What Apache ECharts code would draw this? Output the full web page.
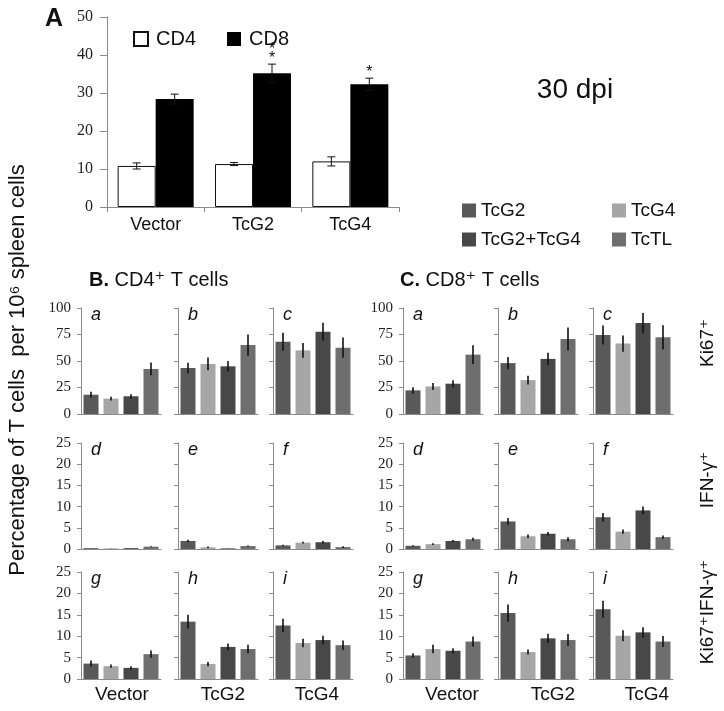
<!DOCTYPE html>
<html><head><meta charset="utf-8">
<script src="https://cdn.jsdelivr.net/npm/echarts@6/dist/echarts.min.js"></script>
<style>html,body{margin:0;padding:0;background:#fff}#c{width:724px;height:711px}</style>
</head><body><div id="c"></div>
<script>
// ---------- Panel A data ----------
const aCategories = ['Vector', 'TcG2', 'TcG4'];
const aCD4 = [10.8, 11.3, 12.0];
const aCD4Err = [0.8, 0.4, 1.2];
const aCD8 = [28.4, 35.2, 32.3];
const aCD8Err = [1.3, 2.4, 1.6];
const aStars = ['', '**', '*'];
const aTicks = [0, 10, 20, 30, 40, 50];

// ---------- Panels B / C data ----------
const groups = ['TcG2', 'TcG4', 'TcG2+TcG4', 'TcTL'];
const vaccines = ['Vector', 'TcG2', 'TcG4'];
const rowLabels = ['Ki67\u207A', 'IFN-\u03B3\u207A', 'Ki67\u207AIFN-\u03B3\u207A'];
const rowMax = [100, 25, 25];
const rowStep = [25, 5, 5];
const letters = [['a', 'b', 'c'], ['d', 'e', 'f'], ['g', 'h', 'i']];

// values[vaccine][group]
const cd4Ki67 = [[18.2, 14.5, 16.7, 42.5], [43.4, 47.2, 45.0, 65.0], [68.2, 60.0, 77.7, 62.6]];
const cd4Ki67Err = [[2.7, 1.7, 2.0, 6.0], [5.0, 6.0, 5.0, 10.0], [8.5, 7.0, 8.5, 9.5]];
const cd4Ifn = [[0.2, 0.15, 0.2, 0.55], [1.9, 0.4, 0.15, 0.7], [0.85, 1.5, 1.6, 0.45]];
const cd4IfnErr = [[0.05, 0.05, 0.05, 0.1], [0.3, 0.2, 0.05, 0.15], [0.15, 0.2, 0.3, 0.2]];
const cd4Dbl = [[3.6, 3.0, 2.6, 5.8], [13.4, 3.5, 7.5, 7.0], [12.5, 8.4, 9.1, 7.9]];
const cd4DblErr = [[0.7, 0.4, 0.4, 0.85], [1.6, 0.5, 0.8, 1.0], [1.6, 1.0, 1.0, 1.1]];

const cd8Ki67 = [[22.3, 26.0, 28.6, 56.0], [48.0, 32.0, 52.0, 70.7], [74.5, 66.4, 85.8, 72.3]];
const cd8Ki67Err = [[3.0, 3.3, 3.3, 8.8], [5.8, 4.2, 5.8, 10.8], [9.0, 7.7, 9.6, 11.5]];
const cd8Ifn = [[0.75, 1.15, 1.9, 2.3], [6.5, 3.0, 3.6, 2.3], [7.5, 4.1, 9.1, 2.8]];
const cd8IfnErr = [[0.15, 0.2, 0.25, 0.35], [0.8, 0.4, 0.4, 0.45], [1.0, 0.5, 0.9, 0.4]];
const cd8Dbl = [[5.5, 7.0, 6.6, 8.75], [15.4, 6.3, 9.5, 9.1], [16.3, 10.1, 10.9, 8.75]];
const cd8DblErr = [[0.5, 1.0, 0.6, 1.2], [2.0, 0.6, 1.1, 1.4], [2.0, 1.3, 1.2, 1.3]];

// ---------- styles / layout ----------
const groupColors = ['#595959', '#a6a6a6', '#484848', '#6e6e6e'];
const SANS = '"Liberation Sans", Arial, "DejaVu Sans", sans-serif';
const SERIF = '"Liberation Serif", "Times New Roman", serif';
const AXIS = '#8a8a8a';
const L = {
  aGrid: { left: 107, top: 17, width: 292, height: 190 },
  panelLeft: [[81, 178, 273], [403, 498, 593]],
  rowTop: [308, 443, 572],
  rowHeight: [106, 106, 107],
  subW: 80,
  vaccineLabelX: [[122, 223, 317], [452, 553, 647]],
  rowLabelY: [343, 480, 612]
};

const panels = [
  { vals: [cd4Ki67, cd4Ifn, cd4Dbl], errs: [cd4Ki67Err, cd4IfnErr, cd4DblErr] },
  { vals: [cd8Ki67, cd8Ifn, cd8Dbl], errs: [cd8Ki67Err, cd8IfnErr, cd8DblErr] }
];

const grid = [], xAxis = [], yAxis = [], series = [], graphic = [];

// ---------- Panel A ----------
grid.push(Object.assign({ containLabel: false }, L.aGrid));
xAxis.push({
  type: 'category', gridIndex: 0, data: aCategories,
  axisLine: { lineStyle: { color: AXIS, width: 1 } },
  axisTick: { show: true, length: 5, lineStyle: { color: AXIS } },
  axisLabel: { fontFamily: SANS, fontSize: 18, color: '#111', margin: 9 }
});
yAxis.push({
  type: 'value', gridIndex: 0, min: aTicks[0], max: aTicks[aTicks.length - 1], interval: 10,
  axisLine: { show: true, lineStyle: { color: AXIS } },
  axisTick: { show: true, length: 7, lineStyle: { color: AXIS } },
  splitLine: { show: false },
  axisLabel: { fontFamily: SERIF, fontSize: 16, color: '#222', margin: 14 }
});
const aBarW = 38;
series.push({
  type: 'bar', name: 'CD4', xAxisIndex: 0, yAxisIndex: 0, data: aCD4,
  barWidth: aBarW, barGap: '0%',
  itemStyle: { color: '#ffffff', borderColor: '#111', borderWidth: 1 }
});
series.push({
  type: 'bar', name: 'CD8', xAxisIndex: 0, yAxisIndex: 0, data: aCD8,
  barWidth: aBarW, barGap: '0%',
  itemStyle: { color: '#000000' }
});
function aErr(offset, withStars) {
  return function (params, api) {
    const i = api.value(0), v = api.value(1), e = api.value(2);
    const lo = api.coord([i, v - e]), hi = api.coord([i, v + e]);
    const x = lo[0] + offset, cap = 4;
    const st = { stroke: '#111', lineWidth: 1 };
    const children = [
      { type: 'line', shape: { x1: x, y1: lo[1], x2: x, y2: hi[1] }, style: st },
      { type: 'line', shape: { x1: x - cap, y1: lo[1], x2: x + cap, y2: lo[1] }, style: st },
      { type: 'line', shape: { x1: x - cap, y1: hi[1], x2: x + cap, y2: hi[1] }, style: st }
    ];
    if (withStars && aStars[params.dataIndex]) {
      children.push({
        type: 'text', x: x, y: hi[1] - 1,
        style: { text: aStars[params.dataIndex].split('').join('\n'), font: '16px ' + SANS, fill: '#111',
          align: 'center', verticalAlign: 'bottom', lineHeight: 9 }
      });
    }
    return { type: 'group', children: children };
  };
}
series.push({
  type: 'custom', name: 'errCD4', xAxisIndex: 0, yAxisIndex: 0, z: 5,
  data: aCD4.map((v, i) => [i, v, aCD4Err[i]]), renderItem: aErr(-aBarW / 2, false)
});
series.push({
  type: 'custom', name: 'errCD8', xAxisIndex: 0, yAxisIndex: 0, z: 5,
  data: aCD8.map((v, i) => [i, v, aCD8Err[i]]), renderItem: aErr(aBarW / 2, true)
});

// ---------- Panels B / C ----------
function errRender(params, api) {
  const i = api.value(0), v = api.value(1), e = api.value(2);
  const lo = api.coord([i, Math.max(0, v - e)]), hi = api.coord([i, v + e]);
  return { type: 'line', shape: { x1: lo[0], y1: lo[1], x2: hi[0], y2: hi[1] },
    style: { stroke: '#111', lineWidth: 1.6 } };
}
let gi = 1;
panels.forEach((p, pi) => {
  for (let r = 0; r < 3; r++) {
    for (let c = 0; c < 3; c++) {
      const left = L.panelLeft[pi][c], top = L.rowTop[r];
      grid.push({ left: left, top: top, width: L.subW, height: L.rowHeight[r], containLabel: false });
      xAxis.push({
        type: 'category', gridIndex: gi, data: groups,
        axisLine: { lineStyle: { color: AXIS, width: 1 } },
        axisTick: { show: false }, axisLabel: { show: false }
      });
      yAxis.push({
        type: 'value', gridIndex: gi, min: 0, max: rowMax[r], interval: rowStep[r],
        axisLine: { show: true, lineStyle: { color: AXIS } },
        axisTick: { show: true, length: 4, lineStyle: { color: AXIS } },
        splitLine: { show: false },
        axisLabel: { show: c === 0, fontFamily: SERIF, fontSize: 15, color: '#222', margin: 10 }
      });
      const vals = p.vals[r][c], errs = p.errs[r][c];
      groups.forEach((g, k) => {
        series.push({
          type: 'bar', name: g, xAxisIndex: gi, yAxisIndex: gi,
          data: [[k, vals[k]]], barWidth: 15, barGap: '-100%',
          itemStyle: { color: groupColors[k] }
        });
      });
      series.push({
        type: 'custom', name: 'err', xAxisIndex: gi, yAxisIndex: gi, z: 5,
        data: vals.map((v, k) => [k, v, errs[k]]), renderItem: errRender
      });
      graphic.push({
        type: 'text', x: left + 10, y: top - 2,
        style: { text: letters[r][c], font: 'italic 18px ' + SANS, fill: '#111', verticalAlign: 'top' }
      });
      gi++;
    }
  }
  vaccines.forEach((v, c) => {
    graphic.push({
      type: 'text', x: L.vaccineLabelX[pi][c], y: 695,
      style: { text: v, font: '19px ' + SANS, fill: '#111', align: 'center', verticalAlign: 'middle' }
    });
  });
});

// ---------- texts ----------
graphic.push({ type: 'text', x: 45, y: 19,
  style: { text: 'A', font: 'bold 25px ' + SANS, fill: '#111', verticalAlign: 'middle' } });
graphic.push({ type: 'text', x: 575, y: 90,
  style: { text: '30 dpi', font: '28px ' + SANS, fill: '#111', align: 'center', verticalAlign: 'middle' } });
graphic.push({ type: 'text', x: 89, y: 280,
  style: { text: '{b|B.} CD4\u207A T cells', font: '20px ' + SANS, fill: '#111', verticalAlign: 'middle',
    rich: { b: { fontWeight: 'bold', fontSize: 20, fontFamily: SANS } } } });
graphic.push({ type: 'text', x: 400, y: 280,
  style: { text: '{b|C.} CD8\u207A T cells', font: '20px ' + SANS, fill: '#111', verticalAlign: 'middle',
    rich: { b: { fontWeight: 'bold', fontSize: 20, fontFamily: SANS } } } });
graphic.push({ type: 'text', x: 18, y: 370, rotation: Math.PI / 2,
  style: { text: 'Percentage of T cells  per 10\u2076 spleen cells', font: '22px ' + SANS, fill: '#111',
    align: 'center', verticalAlign: 'middle' } });
rowLabels.forEach((t, r) => {
  graphic.push({ type: 'text', x: 708, y: L.rowLabelY[r], rotation: Math.PI / 2,
    style: { text: t, font: '19px ' + SANS, fill: '#111', align: 'center', verticalAlign: 'middle' } });
});

const chart = echarts.init(document.getElementById('c'), null, { renderer: 'canvas' });
chart.setOption({
  animation: false,
  backgroundColor: '#fff',
  grid: grid, xAxis: xAxis, yAxis: yAxis, series: series, graphic: graphic,
  legend: [
    { data: ['CD4', 'CD8'], left: 128, top: 24, itemWidth: 14, itemHeight: 14, itemGap: 31, icon: 'rect',
      selectedMode: false, textStyle: { fontFamily: SANS, fontSize: 20, color: '#111', padding: [0, 0, 0, 3] } },
    { data: ['TcG2', 'TcG2+TcG4'], orient: 'vertical', left: 457, top: 196, itemWidth: 14, itemHeight: 14,
      itemGap: 10, icon: 'rect', selectedMode: false,
      textStyle: { fontFamily: SANS, fontSize: 19, color: '#111' } },
    { data: ['TcG4', 'TcTL'], orient: 'vertical', left: 607, top: 196, itemWidth: 14, itemHeight: 14,
      itemGap: 10, icon: 'rect', selectedMode: false,
      textStyle: { fontFamily: SANS, fontSize: 19, color: '#111' } }
  ]
});
</script></body></html>
